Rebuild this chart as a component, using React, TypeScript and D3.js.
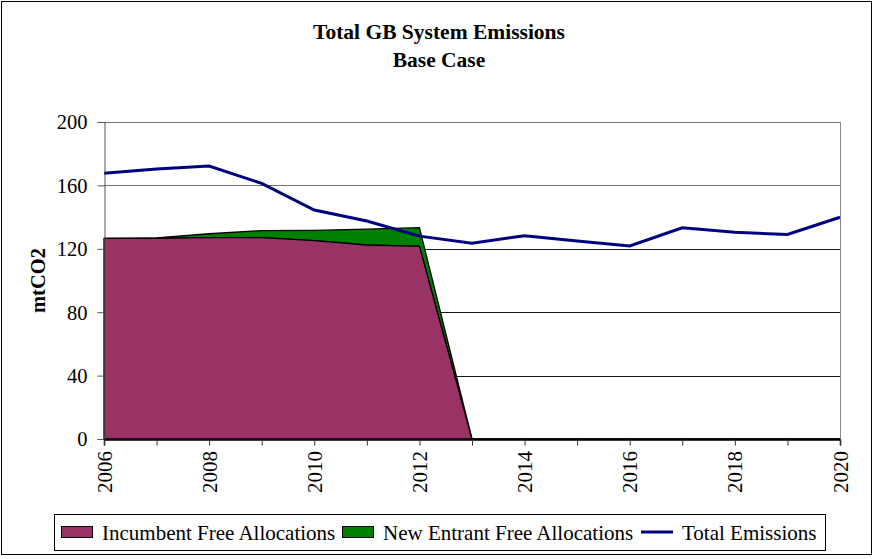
import React, { useEffect, useRef } from "react";
import * as d3 from "d3";

const years = [2006, 2007, 2008, 2009, 2010, 2011, 2012, 2013, 2014, 2015, 2016, 2017, 2018, 2019, 2020];
const incumbent = [126.6, 126.6, 127, 127, 125.1, 122.4, 121.5, 0, 0, 0, 0, 0, 0, 0, 0];
const newEntrant = [0, 0.3, 2.5, 4.5, 6.5, 10, 11.8, 0, 0, 0, 0, 0, 0, 0, 0];
const totalEmissions = [167.6, 170.3, 172.2, 161.3, 144.5, 137.5, 128, 123.5, 128.3, 124.9, 121.8, 133.3, 130.4, 129.1, 139.9];
const yTicks = [0, 40, 80, 120, 160, 200];
const xTickLabels = [2006, 2008, 2010, 2012, 2014, 2016, 2018, 2020];
const legendLabels = ["Incumbent Free Allocations", "New Entrant Free Allocations", "Total Emissions"];

const W = 874, H = 559;
const M = { left: 104, right: 840, top: 122, bottom: 439 };
const FONT = "'Liberation Serif', 'Times New Roman', serif";

export default function App() {
  const ref = useRef<SVGSVGElement>(null);
  useEffect(() => {
    const svg = d3.select(ref.current);
    svg.selectAll("*").remove();
    const x = d3.scaleLinear().domain([2006, 2020]).range([M.left, M.right]);
    const y = d3.scaleLinear().domain([0, 200]).range([M.bottom, M.top]);

    svg.append("rect").attr("x", 0).attr("y", 0).attr("width", W).attr("height", H).attr("fill", "white");
    svg.append("rect").attr("x", 1.5).attr("y", 1.5).attr("width", 870).attr("height", 553)
      .attr("fill", "none").attr("stroke", "#000").attr("stroke-width", 1);

    // title
    const t = svg.append("text").attr("text-anchor", "middle").attr("font-family", FONT)
      .attr("font-weight", "bold").attr("font-size", 21.5);
    t.append("tspan").attr("x", 439).attr("y", 39).text("Total GB System Emissions");
    t.append("tspan").attr("x", 439).attr("y", 67).text("Base Case");

    // grid
    svg.append("g").selectAll("line").data(yTicks.filter(v => v > 0)).join("line")
      .attr("x1", M.left).attr("x2", M.right)
      .attr("y1", d => Math.round(y(d)) + 0.5).attr("y2", d => Math.round(y(d)) + 0.5)
      .attr("stroke", "#000").attr("stroke-width", 1).attr("opacity", d => d >= 160 ? 0.55 : 0.9);
    svg.append("line").attr("x1", M.right + 0.5).attr("x2", M.right + 0.5).attr("y1", M.top).attr("y2", M.bottom)
      .attr("stroke", "#888");

    const stack = years.map((yr, i) => ({ yr, a: incumbent[i], b: incumbent[i] + newEntrant[i] }));
    const areaB = d3.area<any>().x(d => x(d.yr)).y0(d => y(d.a)).y1(d => y(d.b));
    const areaA = d3.area<any>().x(d => x(d.yr)).y0(y(0)).y1(d => y(d.a));
    svg.append("path").datum(stack).attr("d", areaB).attr("fill", "#008000").attr("stroke", "#000").attr("stroke-width", 1.3);
    svg.append("path").datum(stack).attr("d", areaA).attr("fill", "#993366").attr("stroke", "#000").attr("stroke-width", 1.3);

    const line = d3.line<number>().x((_, i) => x(years[i])).y(d => y(d));
    svg.append("path").datum(totalEmissions).attr("d", line).attr("fill", "none")
      .attr("stroke", "#000080").attr("stroke-width", 3);

    // y axis
    const ya = svg.append("g").attr("transform", `translate(${M.left + 0.5},0)`)
      .call(d3.axisLeft(y).tickValues(yTicks).tickSize(7).tickPadding(10).tickFormat(d3.format("d")));
    ya.select(".domain").attr("stroke", "#555");
    ya.selectAll("line").attr("stroke", "#555");
    ya.selectAll("text").attr("font-family", FONT).attr("font-size", 20.5).attr("fill", "#000").attr("dy", "0.34em");

    // x axis
    const xa = svg.append("g").attr("transform", `translate(0,${M.bottom + 0.5})`)
      .call(d3.axisBottom(x).tickValues(years).tickSize(6).tickFormat(() => ""));
    xa.select(".domain").attr("stroke", "#000").attr("stroke-width", 1.5);
    xa.selectAll("line").attr("stroke", "#333");
    svg.append("g").selectAll("text").data(xTickLabels).join("text")
      .attr("transform", d => `translate(${x(d) + 7.5},${M.bottom + 12}) rotate(-90)`)
      .attr("text-anchor", "end").attr("font-family", FONT).attr("font-size", 21).text(d => d);

    svg.append("text").attr("transform", `translate(45,${(M.top + M.bottom) / 2}) rotate(-90)`)
      .attr("text-anchor", "middle").attr("font-family", FONT).attr("font-weight", "bold").attr("font-size", 20.5)
      .text("mtCO2");

    // legend
    const lg = svg.append("g");
    lg.append("rect").attr("x", 54.5).attr("y", 514.5).attr("width", 771).attr("height", 36)
      .attr("fill", "white").attr("stroke", "#000");
    const items = [
      { x: 61, label: legendLabels[0], type: "rect", color: "#993366" },
      { x: 342, label: legendLabels[1], type: "rect", color: "#008000" },
      { x: 641, label: legendLabels[2], type: "line", color: "#000080" },
    ];
    items.forEach(it => {
      if (it.type === "rect") {
        lg.append("rect").attr("x", it.x + 0.5).attr("y", 526.5).attr("width", 31).attr("height", 11)
          .attr("fill", it.color).attr("stroke", "#000");
      } else {
        lg.append("line").attr("x1", it.x).attr("x2", it.x + 32).attr("y1", 532).attr("y2", 532)
          .attr("stroke", it.color).attr("stroke-width", 3);
      }
      lg.append("text").attr("x", it.x + 41).attr("y", 539.5).attr("font-family", FONT).attr("font-size", 21)
        .text(it.label);
    });
  }, []);
  return (
    <svg ref={ref} width={W} height={H} style={{ position: "absolute", left: 0, top: 0 }} />
  );
}
